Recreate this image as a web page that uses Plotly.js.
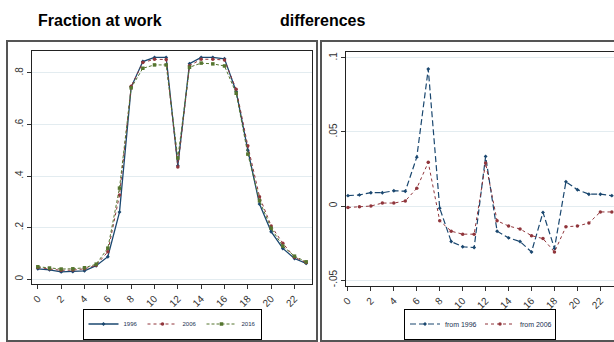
<!DOCTYPE html>
<html>
<head>
<meta charset="utf-8">
<script src="https://cdn.plot.ly/plotly-3.0.1.min.js"></script>
<style>html,body{margin:0;padding:0;background:#fff;}#chart{width:614px;height:342px;}</style>
</head>
<body>
<div id="chart"></div>
<script>
// ---- data ----
const hours = [0,1,2,3,4,5,6,7,8,9,10,11,12,13,14,15,16,17,18,19,20,21,22,23];
const work1996 = [0.040,0.036,0.028,0.029,0.032,0.052,0.087,0.260,0.745,0.844,0.860,0.860,0.440,0.836,0.860,0.860,0.855,0.728,0.500,0.291,0.184,0.119,0.080,0.061];
const work2006 = [0.045,0.040,0.034,0.035,0.040,0.054,0.106,0.326,0.748,0.840,0.853,0.852,0.435,0.828,0.853,0.853,0.850,0.737,0.517,0.320,0.206,0.139,0.085,0.064];
const work2016 = [0.048,0.043,0.039,0.040,0.044,0.058,0.120,0.353,0.742,0.818,0.831,0.831,0.470,0.822,0.838,0.835,0.827,0.721,0.485,0.304,0.197,0.128,0.089,0.067];
const diffFrom1996 = [0.007,0.0075,0.009,0.009,0.0103,0.010,0.033,0.0925,-0.0015,-0.024,-0.0275,-0.028,0.0335,-0.017,-0.0215,-0.024,-0.031,-0.0043,-0.0286,0.0164,0.011,0.008,0.008,0.007];
const diffFrom2006 = [-0.001,-0.0005,0.0,0.002,0.002,0.0034,0.012,0.0295,-0.010,-0.017,-0.019,-0.019,0.029,-0.010,-0.0135,-0.0155,-0.020,-0.022,-0.031,-0.014,-0.0135,-0.0115,-0.004,-0.004];
const seriesNames = ['1996','2006','2016'];
const diffNames = ['from 1996','from 2006'];
const xTicks = [0,2,4,6,8,10,12,14,16,18,20,22];
const yTicksL = [0,0.2,0.4,0.6,0.8];
const yTickTextL = ['0','.2','.4','.6','.8'];
const yTicksR = [-0.05,0,0.05,0.1];
const yTickTextR = ['-.05','0','.05','.1'];
const titleLeft = 'Fraction at work';
const titleRight = 'differences';

// ---- styling ----
const NAVY = '#1a476f', MAROON = '#90353b', GREEN = '#55752f';
const W = 614, H = 342;
const px = v => v / W;
const py = v => (H - v) / H;

const traces = [
  {x: hours, y: work1996, name: seriesNames[0], mode: 'lines+markers', xaxis: 'x', yaxis: 'y', legend: 'legend',
   line: {color: NAVY, width: 1.3}, marker: {color: NAVY, size: 3, symbol: 'diamond'}},
  {x: hours, y: work2006, name: seriesNames[1], mode: 'lines+markers', xaxis: 'x', yaxis: 'y', legend: 'legend',
   line: {color: MAROON, width: 1, dash: 'dot'}, marker: {color: MAROON, size: 3.5, symbol: 'circle'}},
  {x: hours, y: work2016, name: seriesNames[2], mode: 'lines+markers', xaxis: 'x', yaxis: 'y', legend: 'legend',
   line: {color: GREEN, width: 1, dash: '3px,2px'}, marker: {color: GREEN, size: 3.5, symbol: 'square'}},
  {x: hours, y: diffFrom1996, name: diffNames[0], mode: 'lines+markers', xaxis: 'x2', yaxis: 'y2', legend: 'legend2',
   line: {color: NAVY, width: 1.2, dash: '6px,3px'}, marker: {color: NAVY, size: 3, symbol: 'diamond'}},
  {x: hours, y: diffFrom2006, name: diffNames[1], mode: 'lines+markers', xaxis: 'x2', yaxis: 'y2', legend: 'legend2',
   line: {color: MAROON, width: 1, dash: 'dot'}, marker: {color: MAROON, size: 3.5, symbol: 'circle'}}
];

const tickFont = {family: 'Liberation Sans, Arial, sans-serif', size: 10, color: '#333'};
const axisCommon = {
  showline: true, linecolor: '#222', linewidth: 1, mirror: true,
  ticks: 'outside', ticklen: 4, tickcolor: '#333', tickfont: tickFont, zeroline: false
};

const layout = {
  width: W, height: H,
  margin: {l: 0, r: 0, t: 0, b: 0},
  paper_bgcolor: '#fff', plot_bgcolor: '#fff',
  showlegend: true,
  xaxis: Object.assign({}, axisCommon, {
    domain: [px(32), px(312)], range: [-0.5, 23.5], anchor: 'y',
    tickvals: xTicks, tickangle: -45, showgrid: false
  }),
  yaxis: Object.assign({}, axisCommon, {
    domain: [py(284), py(51)], range: [-0.019, 0.885], anchor: 'x',
    tickvals: yTicksL, ticktext: yTickTextL, tickangle: -90,
    showgrid: true, gridcolor: '#e3ecf0', gridwidth: 1
  }),
  xaxis2: Object.assign({}, axisCommon, {
    domain: [px(346), 1], range: [-0.17, 23.19], anchor: 'y2',
    tickvals: xTicks, tickangle: -45, showgrid: false
  }),
  yaxis2: Object.assign({}, axisCommon, {
    domain: [py(286), py(52)], range: [-0.054, 0.104], anchor: 'x2',
    tickvals: yTicksR, ticktext: yTickTextR, tickangle: -90,
    showgrid: true, gridcolor: '#e3ecf0', gridwidth: 1
  }),
  legend: {
    orientation: 'h', x: px(172), y: py(324), xanchor: 'center', yanchor: 'middle',
    bordercolor: '#000', borderwidth: 1, bgcolor: '#fff',
    font: {family: 'Liberation Sans Narrow, Liberation Sans, Arial, sans-serif', size: 6, color: '#1a3050'},
    itemwidth: 30, entrywidth: 14, tracegroupgap: 0
  },
  legend2: {
    orientation: 'h', x: px(480), y: py(324), xanchor: 'center', yanchor: 'middle',
    bordercolor: '#000', borderwidth: 1, bgcolor: '#fff',
    font: {family: 'Liberation Sans Narrow, Liberation Sans, Arial, sans-serif', size: 7, color: '#1a3050'},
    itemwidth: 30, entrywidth: 30, tracegroupgap: 0
  },
  shapes: [
    {type: 'rect', xref: 'paper', yref: 'paper', x0: px(7), x1: px(317), y0: py(341), y1: py(41),
     line: {color: '#555', width: 2}, fillcolor: 'rgba(0,0,0,0)', layer: 'below'},
    {type: 'rect', xref: 'paper', yref: 'paper', x0: px(321), x1: px(617), y0: py(341), y1: py(41),
     line: {color: '#555', width: 2}, fillcolor: 'rgba(0,0,0,0)', layer: 'below'}
  ],
  annotations: [
    {text: '<b>' + titleLeft + '</b>', xref: 'paper', yref: 'paper', x: px(36), y: py(20),
     xanchor: 'left', yanchor: 'middle', showarrow: false,
     font: {family: 'Liberation Sans, Arial, sans-serif', size: 16, color: '#000'}},
    {text: '<b>' + titleRight + '</b>', xref: 'paper', yref: 'paper', x: px(278), y: py(20),
     xanchor: 'left', yanchor: 'middle', showarrow: false,
     font: {family: 'Liberation Sans, Arial, sans-serif', size: 16, color: '#000'}}
  ]
};

Plotly.newPlot('chart', traces, layout, {displayModeBar: false, staticPlot: true});
</script>
</body>
</html>
